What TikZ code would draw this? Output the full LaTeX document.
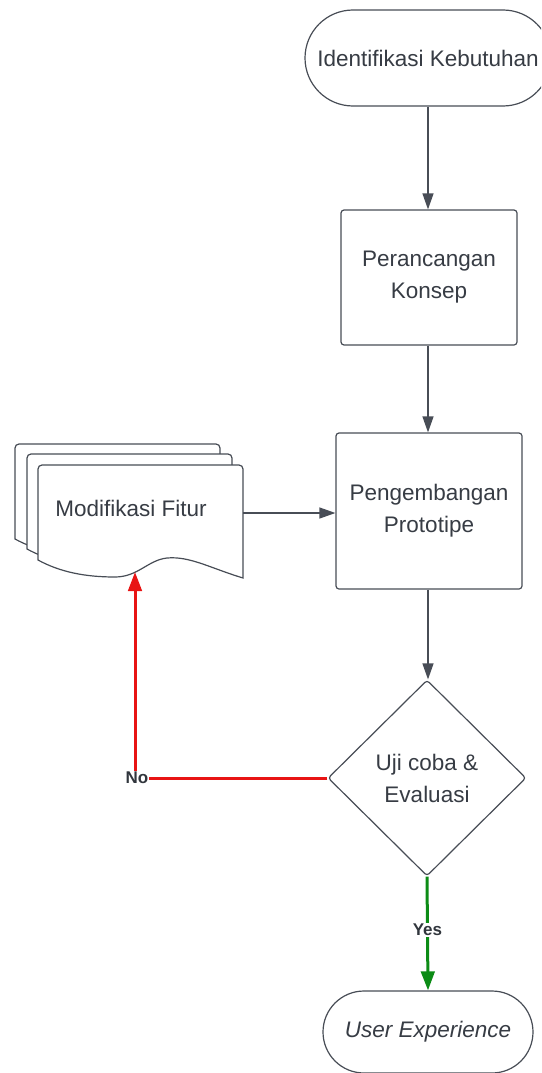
\documentclass[tikz,border=0pt]{standalone}
\usepackage{fontspec}
\setmainfont{Liberation Sans}
\usetikzlibrary{shapes.misc,shapes.geometric,arrows.meta}
\definecolor{edge}{RGB}{72,77,86}
\definecolor{ink}{RGB}{55,60,68}
\definecolor{noRed}{RGB}{232,20,20}
\definecolor{yesGreen}{RGB}{12,140,22}
\begin{document}
\begin{tikzpicture}[x=1pt,y=-1pt,
  base/.style={draw=edge, line width=1.2pt, fill=white, text=ink, align=center,
    font=\fontsize{22.5}{32}\selectfont, inner sep=0pt},
  terminal/.style={base, rounded rectangle},
  process/.style={base, rectangle, rounded corners=3pt},
  decision/.style={base, diamond, rounded corners=3pt},
  flow/.style={draw=edge, line width=1.3pt, -{Triangle[length=16pt,width=11pt]}},
  boldtip/.style={-{Triangle[length=19pt,width=13.5pt]}},
  noflow/.style={draw=noRed, line width=3pt, boldtip},
  yesflow/.style={draw=yesGreen, line width=3pt, boldtip},
  branch/.style={fill=white, text=ink!90!black, inner sep=1pt,
    font=\bfseries\fontsize{17}{20}\selectfont},
  page/.style={draw=edge, line width=1.2pt, fill=white}
]
\useasboundingbox (0,0) rectangle (541,1073);
\clip (0,0) rectangle (541,1073);

% main column
\node[terminal, minimum width=246pt, minimum height=96pt] (ident) at (428,58) {Identifikasi Kebutuhan};
\node[process, minimum width=176pt, minimum height=135pt] (konsep) at (429,277.5) {Perancangan\\Konsep};
\node[process, minimum width=186pt, minimum height=156pt] (proto) at (429,511) {Pengembangan\\Prototipe};
\node[decision, minimum width=198pt, minimum height=196pt] (uji) at (427,778) {Uji coba \&\\Evaluasi};
\node[terminal, minimum width=210pt, minimum height=82pt, font=\itshape\fontsize{22.5}{32}\selectfont] (ux) at (428,1032) {User Experience};

% stacked document (multi-page)
\foreach \dx/\dy in {-23/-21,-11/-11,0/0}{
  \draw[page, shift={(\dx,\dy)}]
    [rounded corners=4pt] (38,560) -- (38,465) -- (243,465) [sharp corners] -- (243,578)
    .. controls (210,568) and (190,556) .. (167,558)
    .. controls (148,560) and (138,577) .. (115,577)
    .. controls (85,577) and (60,572) .. (38,560) -- cycle;
}
\node[text=ink, font=\fontsize{22.5}{32}\selectfont, inner sep=0pt] (fitur) at (131,508) {Modifikasi Fitur};
\coordinate (docR) at (243,513);
\coordinate (docB) at (135,572);

% connectors
\draw[flow] (ident.south -| 428,0) -- (konsep.north -| 428,0);
\draw[flow] (konsep.south -| 428,0) -- (proto.north -| 428,0);
\draw[flow] (proto.south -| 428,0) -- (uji.north -| 428,0);
\draw[flow] (docR) -- (proto.west |- docR);
\draw[yesflow] (uji.south) -- (ux.north) node[branch, pos=0.47] {Yes};
\draw[noflow] (uji.west) -- (docB |- uji.west) node[branch, pos=0.99] {No} -- (docB);
\end{tikzpicture}
\end{document}
